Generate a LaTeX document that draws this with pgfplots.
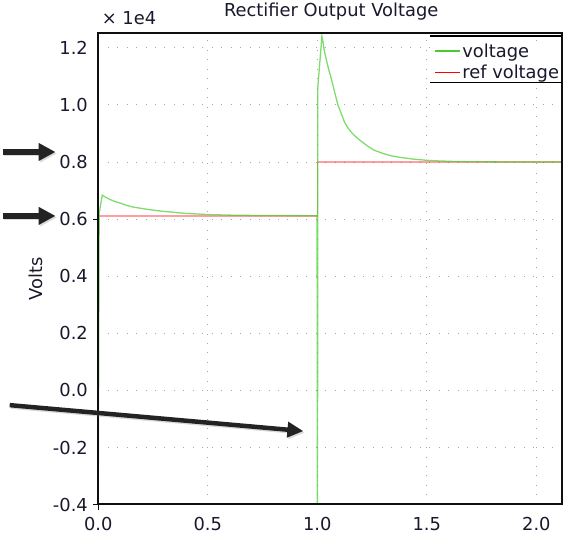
\documentclass[border=0pt]{standalone}
\usepackage{pgfplots}
\pgfplotsset{compat=1.18}
\usetikzlibrary{arrows.meta}
\usepackage{fontspec}
\setmainfont{DejaVu Sans}
\definecolor{vgreen}{RGB}{70,205,45}
\definecolor{vred}{RGB}{255,40,40}
\definecolor{txt}{RGB}{25,25,45}
\definecolor{arr}{RGB}{35,35,35}
\definecolor{frame}{RGB}{15,15,15}

\begin{document}
\begin{tikzpicture}
\begin{axis}[
  name=ax,
  scale only axis, width=466bp, height=474bp,
  xmin=0, xmax=2.118, ymin=-4000, ymax=12524,
  clip=true,
  font=\fontsize{18}{21}\selectfont,
  every tick label/.append style={color=txt},
  xtick={0,0.5,1,1.5,2}, xticklabels={0.0,0.5,1.0,1.5,2.0},
  ytick={-4000,-2000,0,2000,4000,6000,8000,10000,12000},
  yticklabels={-0.4,-0.2,0.0,0.2,0.4,0.6,0.8,1.0,1.2},
  scaled y ticks=false,
  major tick length=0pt,
  xtick pos=bottom, ytick pos=left,
  yticklabel shift=7bp, xticklabel shift=9bp,
  grid=major,
  grid style={gray!70, line width=0.9bp, dash pattern=on 0.9bp off 8.6bp},
  axis line style={draw=none},
  title={Rectifier Output Voltage},
  title style={at={(rel axis cs:0.502,1.0316)}, anchor=center, color=txt},
  ylabel={Volts},
  ylabel style={at={(rel axis cs:-0.135,0.479)}, anchor=center, rotate=0, color=txt},
  legend style={at={(rel axis cs:1,0.984)}, anchor=north east, draw=none, fill=white,
    font=\fontsize{18}{21}\selectfont, inner sep=1bp, row sep=2.5bp,
    nodes={inner sep=2bp, text=txt}},
  legend cell align=left,
  legend image code/.code={\draw[#1] (0bp,0bp) -- (25bp,0bp);},
]
% ref voltage
\addplot[forget plot, vred, opacity=0.45, line width=1.6bp] coordinates {
(0,6110) (1.0,6110) (1.0,8000) (2.118,8000)
};
% voltage
\addplot[forget plot, vgreen, opacity=0.7, line width=1.3bp] coordinates {
(0,-3200) (0.004,6200) (0.018,6840) (0.03,6780) (0.05,6700) (0.075,6620)
(0.1,6560) (0.13,6480) (0.155,6430) (0.2,6370) (0.25,6315) (0.3,6270)
(0.35,6235) (0.4,6200) (0.5,6160) (0.6,6140) (0.7,6130) (0.8,6125) (0.999,6120)
(1.0,-4600) (1.001,-4600) (1.002,10600) (1.021,12400) (1.026,12200)
(1.033,11850) (1.04,11620) (1.05,11300) (1.064,10910) (1.08,10420)
(1.094,10000) (1.11,9680) (1.124,9400) (1.14,9190) (1.16,9000) (1.185,8820)
(1.21,8670) (1.235,8530) (1.26,8410) (1.3,8300) (1.336,8220) (1.38,8160)
(1.44,8100) (1.5,8060) (1.55,8040) (1.62,8020) (1.7,8010) (1.85,8003) (2.118,8000)
};
\addlegendimage{color=vgreen, line width=1.2bp}
\addlegendentry{voltage}
\addlegendimage{color=red, line width=1.2bp}
\addlegendentry{ref voltage}
\end{axis}
\begin{axis}[
  scale only axis, width=466bp, height=474bp,
  xmin=0, xmax=1, ymin=0, ymax=1, hide axis, clip=false,
]
% frame
\draw[frame, line width=2bp] (axis cs:0,0.0005) -- (axis cs:0.9995,0.0005) -- (axis cs:0.9995,0.9995) -- (axis cs:0,0.9995) -- (axis cs:0,0.0005);
% the few tick marks
\draw[frame, line width=1.2bp] (axis cs:-0.011,0) -- (axis cs:0,0);
\draw[frame, line width=1.2bp] (axis cs:0,-0.011) -- (axis cs:0,0);
\draw[frame, line width=1.2bp] (axis cs:-0.011,0.6052) -- (axis cs:0,0.6052);
% legend rules
\draw[black, line width=1.6bp] (axis cs:0.7146,0.9937) -- (axis cs:1,0.9937);
\draw[black, line width=1.1bp] (axis cs:0.7146,0.8945) -- (axis cs:1,0.8945);
% scale note
\node[anchor=west, font=\fontsize{18}{21}\selectfont, text=txt] at (axis cs:0.0,1.0316) {× 1e4};
% annotation arrows
\begin{scope}[line width=5.5bp, -{Triangle[length=17bp,width=17bp]}]
\draw[gray, opacity=0.3, shift={(1.5bp,-1.5bp)}] (axis cs:-0.206,0.7475) -- (axis cs:-0.0923,0.7475);
\draw[gray, opacity=0.3, shift={(1.5bp,-1.5bp)}] (axis cs:-0.206,0.612) -- (axis cs:-0.0923,0.612);
\draw[arr] (axis cs:-0.206,0.7475) -- (axis cs:-0.0923,0.7475);
\draw[arr] (axis cs:-0.206,0.612) -- (axis cs:-0.0923,0.612);
\end{scope}
\begin{scope}[line width=4.5bp, -{Triangle[length=16bp,width=15bp]}]
\draw[gray, opacity=0.3, shift={(1.5bp,-1.5bp)}] (axis cs:-0.191,0.211) -- (axis cs:0.442,0.156);
\draw[arr] (axis cs:-0.191,0.211) -- (axis cs:0.442,0.156);
\end{scope}
% page bounds
\path (axis cs:-0.206,-0.0633) rectangle (axis cs:1.019,1.0696);
\end{axis}
\end{tikzpicture}
\end{document}
